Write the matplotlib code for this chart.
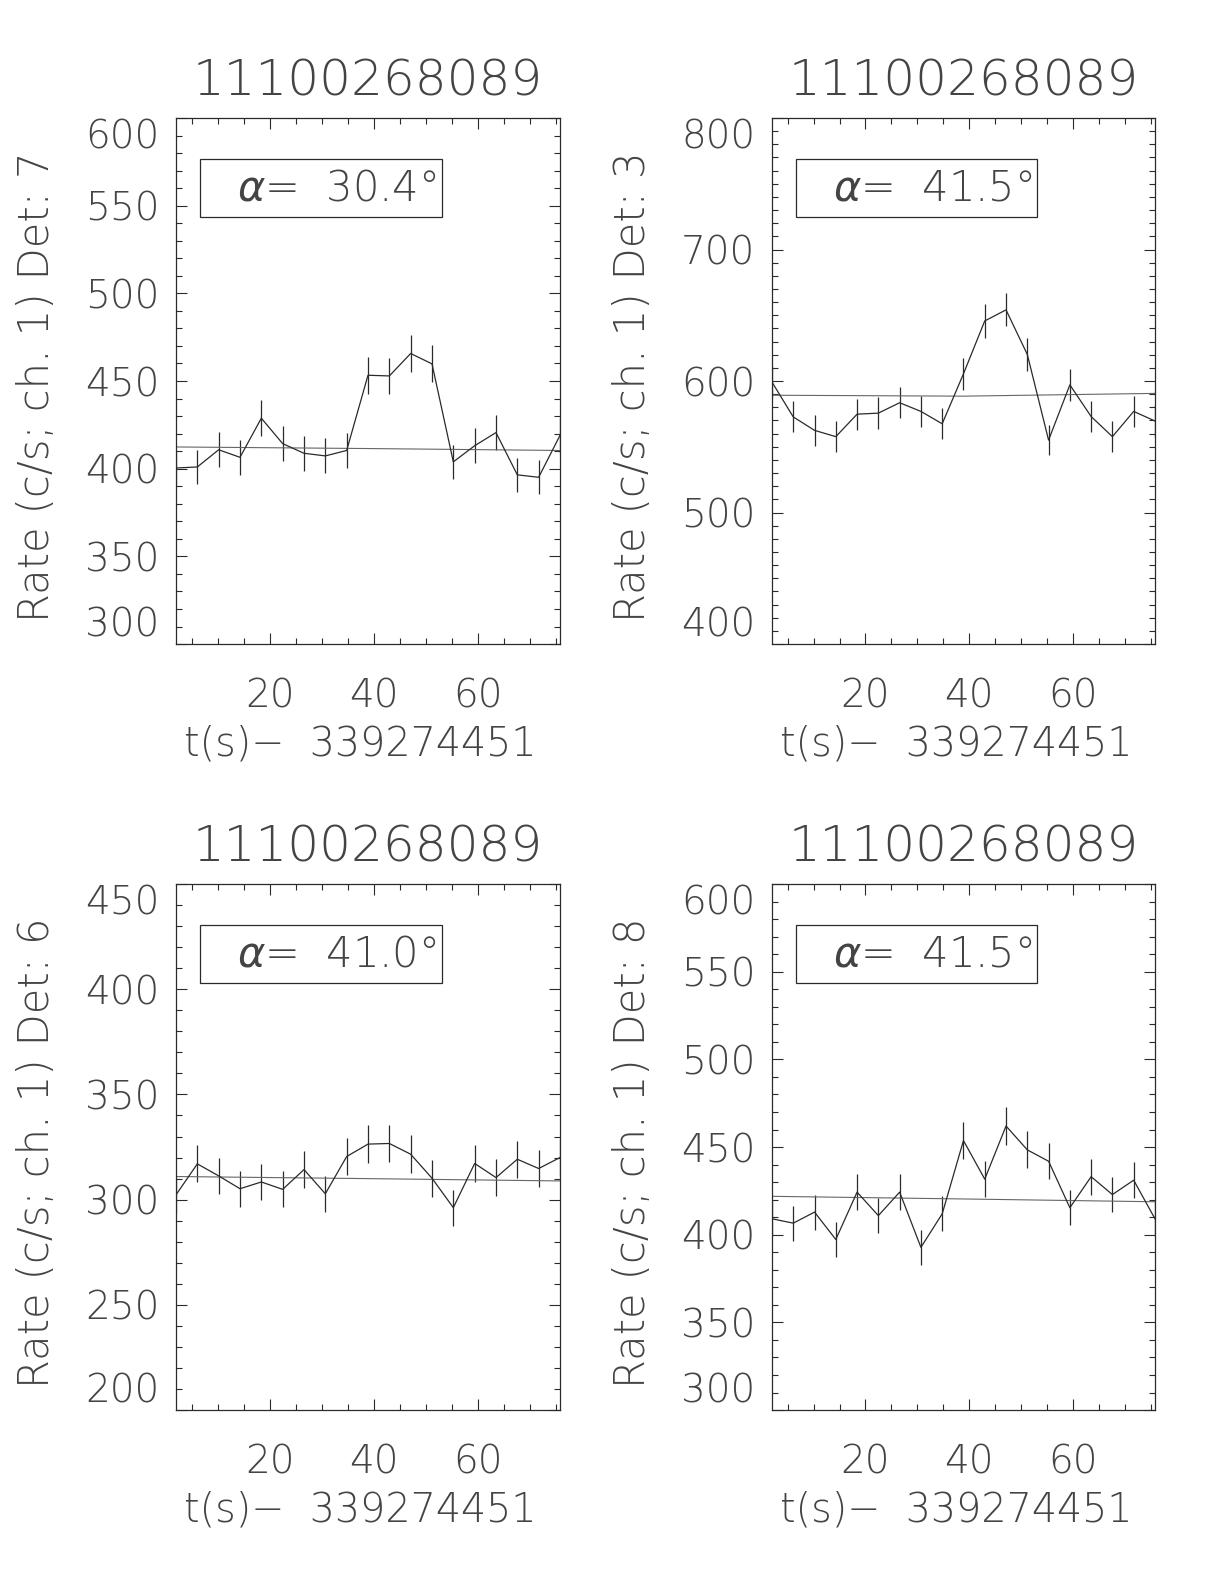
import numpy as np
import matplotlib
matplotlib.use("Agg")
import matplotlib.pyplot as plt
from matplotlib.ticker import MultipleLocator
from matplotlib.patches import Rectangle

plt.rcParams['font.family'] = ['DejaVu Sans']
plt.rcParams['font.weight'] = 'light'
plt.rcParams['axes.titleweight'] = 'light'
plt.rcParams['axes.labelweight'] = 'light'
plt.rcParams['mathtext.fontset'] = 'dejavusans'

# time bins, seconds after 339274451
t = 2.0 + 4.096 * np.arange(19)

title = "11100268089"
xlab = "t(s)\u2212  339274451"

# detector 7
det7 = [400.4, 401.0, 410.8, 406.5, 428.8, 414.3, 408.8, 407.3, 410.4, 453.3,
        452.9, 465.7, 459.8, 403.9, 413.1, 420.6, 396.5, 395.1, 419.0]
err7 = [9.9, 9.9, 10.0, 10.0, 10.2, 10.1, 10.0, 10.0, 10.0, 10.5,
        10.5, 10.7, 10.6, 9.9, 10.1, 10.1, 9.8, 9.8, 10.1]
bkg7 = [412.4, 411.5, 410.4]

# detector 3
det3 = [599.2, 572.7, 562.5, 557.7, 574.8, 575.6, 583.5, 576.9, 567.5, 605.5,
        645.7, 654.1, 620.2, 555.1, 597.1, 573.0, 557.7, 576.9, 569.6]
err3 = [12.1, 11.8, 11.7, 11.7, 11.8, 11.9, 11.9, 11.9, 11.8, 12.2,
        12.6, 12.6, 12.3, 11.6, 12.1, 11.8, 11.7, 11.9, 11.8]
bkg3 = [589.2, 588.5, 590.6]

# detector 6
det6 = [302.3, 317.0, 311.3, 305.2, 308.4, 304.9, 314.3, 302.8, 320.5, 326.4,
        326.7, 321.6, 310.2, 296.2, 317.2, 310.5, 319.2, 314.8, 320.0]
err6 = [8.6, 8.8, 8.7, 8.6, 8.7, 8.6, 8.8, 8.6, 8.8, 8.9,
        8.9, 8.9, 8.7, 8.5, 8.8, 8.7, 8.8, 8.8, 8.8]
bkg6 = [311.0, 310.0, 308.9]

# detector 8
det8 = [409.1, 406.6, 412.9, 397.3, 424.3, 410.9, 424.3, 392.8, 411.9, 453.7,
        431.7, 462.0, 448.4, 441.9, 415.4, 433.1, 422.9, 431.1, 409.1]
err8 = [10.0, 10.0, 10.0, 9.8, 10.2, 10.0, 10.2, 9.8, 10.0, 10.5,
        10.3, 10.6, 10.5, 10.4, 10.1, 10.3, 10.1, 10.3, 10.0]
bkg8 = [421.9, 420.4, 418.8]

panels = [
    # data, err, bkg, det, alpha, ylim, major, axes rect
    (det7, err7, bkg7, "7", "30.4", (300, 600), 50, [0.1438, 0.5934, 0.3137, 0.3321]),
    (det3, err3, bkg3, "3", "41.5", (400, 800), 100, [0.6307, 0.5934, 0.3129, 0.3321]),
    (det6, err6, bkg6, "6", "41.0", (200, 450), 50, [0.1438, 0.1098, 0.3137, 0.3321]),
    (det8, err8, bkg8, "8", "41.5", (300, 600), 50, [0.6307, 0.1098, 0.3129, 0.3321]),
]

ink = "#2a2a2a"
txt = "#444444"

fig = plt.figure(figsize=(12.24, 15.84), dpi=100)

for data, err, bkg, det, alpha, ylim, major, rect in panels:
    ax = fig.add_axes(rect)
    ax.errorbar(t, data, yerr=err, color=ink, lw=0.9, elinewidth=0.9, capsize=0)
    ax.plot([t[0], t[9], t[-1]], bkg, color="#666666", lw=0.8)
    ax.set_xlim(t[0], t[-1])
    ax.set_ylim(*ylim)

    ax.set_xticks([20, 40, 60])
    ax.xaxis.set_minor_locator(MultipleLocator(5))
    yt = np.arange(ylim[0], ylim[1] + 1, major)
    ax.set_yticks(yt)
    ax.yaxis.set_minor_locator(MultipleLocator(10))
    ax.tick_params(which='both', direction='in', top=True, right=True,
                   colors=ink, width=0.8)
    ax.tick_params(which='major', length=8)
    ax.tick_params(which='minor', length=4)
    ax.tick_params(axis='x', labelsize=28, pad=24, labelcolor=txt)
    ax.tick_params(axis='y', labelsize=28, pad=12, labelcolor=txt)
    labs = ax.get_yticklabels()
    labs[0].set_va('bottom')
    labs[-1].set_va('top')
    for s in ax.spines.values():
        s.set_color(ink)
        s.set_linewidth(0.9)

    ax.set_title(title, fontsize=36, color=txt, pad=16)
    ax.set_xlabel(xlab, fontsize=28.5, color=txt)
    ax.xaxis.set_label_coords(0.48, -0.152)
    ax.set_ylabel("Rate (c/s; ch. 1) Det: " + det, fontsize=30, color=txt)
    ax.yaxis.set_label_coords(-0.31, 0.49)

    ax.add_patch(Rectangle((0.0625, 0.812), 0.63, 0.11, transform=ax.transAxes,
                           fill=False, edgecolor=ink, lw=0.9))
    ax.text(0.16, 0.867, r"$\alpha$=  " + alpha + "\u00b0", transform=ax.transAxes,
            fontsize=30, color=txt, ha='left', va='center')

fig.savefig("out.png", dpi=100)
